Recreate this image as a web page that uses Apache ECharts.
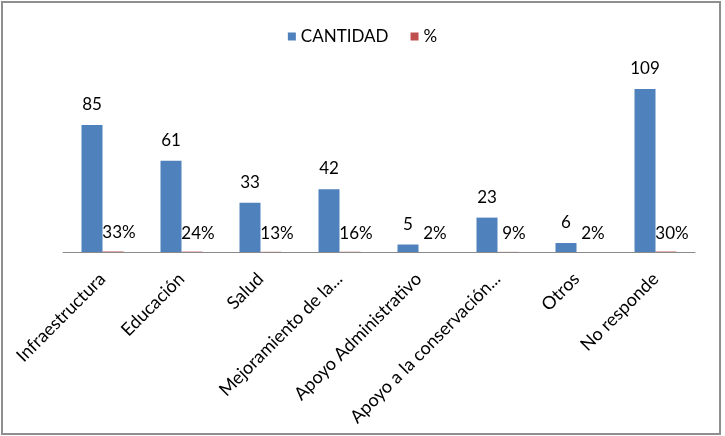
<!DOCTYPE html>
<html>
<head>
<meta charset="utf-8">
<script src="https://cdn.jsdelivr.net/npm/echarts@6/dist/echarts.min.js"></script>
<style>
    html, body { margin: 0; padding: 0; background: #fff; }
    #frame {
        position: absolute; left: 1px; top: 1px;
        width: 716px; height: 430px;
        border: 2px solid #8e8e8e;
    }
    #bar { position: absolute; left: 0; top: 0; width: 725px; height: 436px; }
</style>
</head>
<body>
<div id="frame"></div>
<div id="bar"></div>
<script>
// Datos del gráfico
const categorias = ['Infraestructura', 'Educación', 'Salud', 'Mejoramiento de la...',
    'Apoyo Administrativo', 'Apoyo a la conservación...', 'Otros', 'No responde'];
const cantidad = [85, 61, 33, 42, 5, 23, 6, 109];
const porcentaje = [0.33, 0.24, 0.13, 0.16, 0.02, 0.09, 0.02, 0.30];

const fuente = 'Lato';

function loadBar() {
    const bar = echarts.init(document.getElementById('bar'));

    bar.setOption({
        animation: false,
        textStyle: { fontFamily: fuente },
        legend: {
            top: 23,
            left: 'center',
            itemWidth: 8,
            itemHeight: 8,
            itemGap: 22,
            icon: 'rect',
            textStyle: { fontSize: 17, color: '#000', fontFamily: fuente },
            data: ['CANTIDAD', '%']
        },
        grid: {
            left: 63,
            right: 30,
            top: 72.6,
            bottom: 184
        },
        xAxis: {
            type: 'category',
            data: categorias,
            axisLine: { lineStyle: { color: '#8a8a8a', width: 1 } },
            axisTick: { show: false },
            axisLabel: {
                rotate: 45,
                interval: 0,
                margin: 24,
                fontSize: 18,
                color: '#000',
                fontFamily: fuente
            }
        },
        yAxis: {
            type: 'value',
            min: 0,
            max: 120,
            show: false
        },
        series: [{
            name: 'CANTIDAD',
            type: 'bar',
            data: cantidad,
            barWidth: 21,
            barGap: '0%',
            itemStyle: { color: '#4F81BD' },
            label: {
                show: true,
                position: 'top',
                distance: 12,
                fontSize: 17,
                color: '#000',
                fontFamily: fuente
            }
        }, {
            name: '%',
            type: 'bar',
            data: porcentaje,
            barWidth: 21,
            itemStyle: { color: '#C0504D' },
            label: {
                show: true,
                position: 'top',
                distance: 10,
                offset: [6, 0],
                fontSize: 17,
                color: '#000',
                fontFamily: fuente,
                formatter: p => Math.round(p.value * 100) + '%'
            }
        }]
    });

    window.addEventListener('resize', () => bar.resize());
}

document.addEventListener('DOMContentLoaded', () => {
    loadBar();
});
</script>
</body>
</html>
